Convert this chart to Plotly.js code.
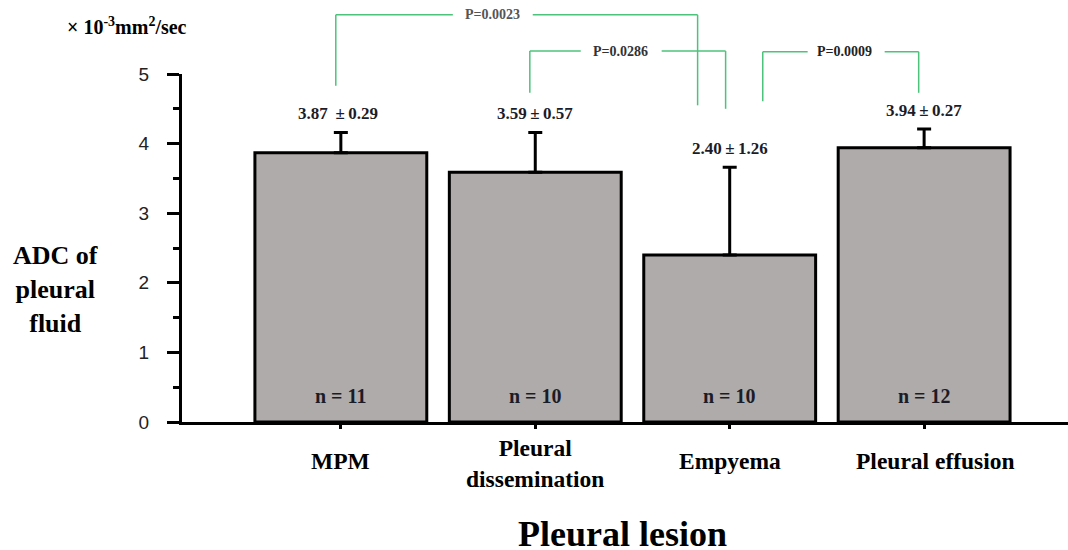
<!DOCTYPE html>
<html>
<head>
<meta charset="utf-8">
<script src="https://cdn.plot.ly/plotly-3.0.1.min.js"></script>
<style>html,body{margin:0;padding:0;background:#fff;}#chart{width:1068px;height:550px;}</style>
</head>
<body>
<div id="chart"></div>
<script>
// ---- data ----
const categories = ["MPM", "Pleural dissemination", "Empyema", "Pleural effusion"];
const categoryLabels = ["MPM", "Pleural<br>dissemination", "Empyema", "Pleural effusion"];
const meanADC = [3.87, 3.59, 2.40, 3.94];
const sdADC = [0.29, 0.57, 1.26, 0.27];
const valueLabels = ["3.87 \u2009±\u20090.29", "3.59\u2009±\u20090.57", "2.40\u2009±\u20091.26", "3.94\u2009±\u20090.27"];
const nLabels = ["n = 11", "n = 10", "n = 10", "n = 12"];
const yTicks = [0, 1, 2, 3, 4, 5];
const pValues = ["P=0.0023", "P=0.0286", "P=0.0009"];

// ---- bracket geometry (layout only, in y-axis units) ----
const brackets = [
  {xl: -0.026, ylb: 4.83, yt: 5.85, xg1: 0.576, xg2: 0.987, xr: 1.835, yrb: 4.55, xt: 0.78, col: '#555'},
  {xl: 0.972, ylb: 4.73, yt: 5.33, xg1: 1.234, xg2: 1.650, xr: 1.979, yrb: 4.50, xt: 1.44, col: '#333'},
  {xl: 2.170, ylb: 4.61, yt: 5.32, xg1: 2.401, xg2: 2.797, xr: 2.972, yrb: 4.73, xt: 2.59, col: '#222'}
];

const serif = 'Liberation Serif, Times New Roman, serif';
const green = '#4cc37a';
const yMax = 5;

const traces = [{
  type: 'bar',
  x: categories,
  y: meanADC,
  marker: {color: '#afabaa', line: {color: '#000', width: 3}},
  error_y: {type: 'data', symmetric: false, array: sdADC, arrayminus: sdADC.map(() => 0),
            color: '#000', thickness: 3, width: 7},
  hoverinfo: 'skip',
  showlegend: false
}];

const shapes = [];
brackets.forEach((b) => {
  const seg = (x0, y0, x1, y1) => shapes.push({
    type: 'line', xref: 'x', yref: 'paper',
    x0: x0, x1: x1, y0: y0 / yMax, y1: y1 / yMax,
    line: {color: green, width: 1.5}
  });
  seg(b.xl, b.ylb, b.xl, b.yt);
  seg(b.xl, b.yt, b.xg1, b.yt);
  seg(b.xg2, b.yt, b.xr, b.yt);
  seg(b.xr, b.yt, b.xr, b.yrb);
});

const annotations = [];
categories.forEach((c, i) => {
  annotations.push({
    x: c, xref: 'x', xanchor: 'center', xshift: (i === 0 ? -3 : 0), y: meanADC[i] + sdADC[i], yref: 'y', yanchor: 'bottom', yshift: 7,
    text: valueLabels[i], showarrow: false,
    font: {family: serif, size: 17, color: '#1c1c28', weight: 'bold'}
  });
  annotations.push({
    x: c, xref: 'x', xanchor: 'center', y: 0, yref: 'y', yanchor: 'middle', yshift: 26,
    text: nLabels[i], showarrow: false,
    font: {family: serif, size: 20, color: '#1c1c28', weight: 'bold'}
  });
  annotations.push({
    x: c, xref: 'x', xanchor: 'center', xshift: (i === 3 ? 11 : 0), y: 0, yref: 'paper', yanchor: 'middle',
    yshift: (i === 1 ? -41 : -39),
    text: categoryLabels[i], showarrow: false,
    font: {family: serif, size: 23.5, color: '#000', weight: 'bold'}
  });
});
brackets.forEach((b, i) => {
  annotations.push({
    x: b.xt, xref: 'x', xanchor: 'center', y: b.yt / yMax, yref: 'paper', yanchor: 'middle',
    text: pValues[i], showarrow: false,
    font: {family: serif, size: 14, color: b.col, weight: 'bold'}
  });
});
annotations.push({
  x: 0, xref: 'paper', xanchor: 'center', xshift: -127, y: 1.9 / yMax, yref: 'paper', yanchor: 'middle',
  text: 'ADC of<br>pleural<br>fluid', showarrow: false, align: 'center',
  font: {family: serif, size: 26, color: '#000', weight: 'bold'}
});
annotations.push({
  x: 0, xref: 'paper', xanchor: 'center', xshift: -55, y: 1, yref: 'paper', yanchor: 'middle', yshift: 48,
  text: '× 10<sup>-3</sup>mm<sup>2</sup>/sec', showarrow: false,
  font: {family: serif, size: 20, color: '#000', weight: 'bold'}
});
annotations.push({
  x: 0.5, xref: 'paper', xanchor: 'center', xshift: -3, y: 0, yref: 'paper', yanchor: 'middle', yshift: -112,
  text: 'Pleural lesion', showarrow: false,
  font: {family: serif, size: 36, color: '#000', weight: 'bold'}
});

const layout = {
  width: 1068, height: 550,
  margin: {l: 182, r: 0, t: 74, b: 128},
  paper_bgcolor: '#fff', plot_bgcolor: '#fff',
  bargap: 0.116,
  xaxis: {
    type: 'category', range: [-0.817, 3.74],
    showline: true, linecolor: '#000', linewidth: 3,
    ticks: 'outside', ticklen: 4, tickwidth: 3, tickcolor: '#000',
    showticklabels: false, showgrid: false, zeroline: false, fixedrange: true
  },
  yaxis: {
    range: [0, yMax],
    tickvals: yTicks, ticktext: yTicks.map(String),
    showline: true, linecolor: '#000', linewidth: 3,
    ticks: 'outside', ticklen: 12, tickwidth: 3, tickcolor: '#000',
    ticklabelstandoff: 14,
    minor: {dtick: 0.5, ticks: 'outside', ticklen: 6, tickwidth: 3, tickcolor: '#000', showgrid: false},
    tickfont: {family: 'Liberation Sans, Arial, sans-serif', size: 19, color: '#222'},
    showgrid: false, zeroline: false, fixedrange: true
  },
  shapes: shapes,
  annotations: annotations,
  showlegend: false
};

Plotly.newPlot('chart', traces, layout, {displayModeBar: false, staticPlot: true});
</script>
</body>
</html>
